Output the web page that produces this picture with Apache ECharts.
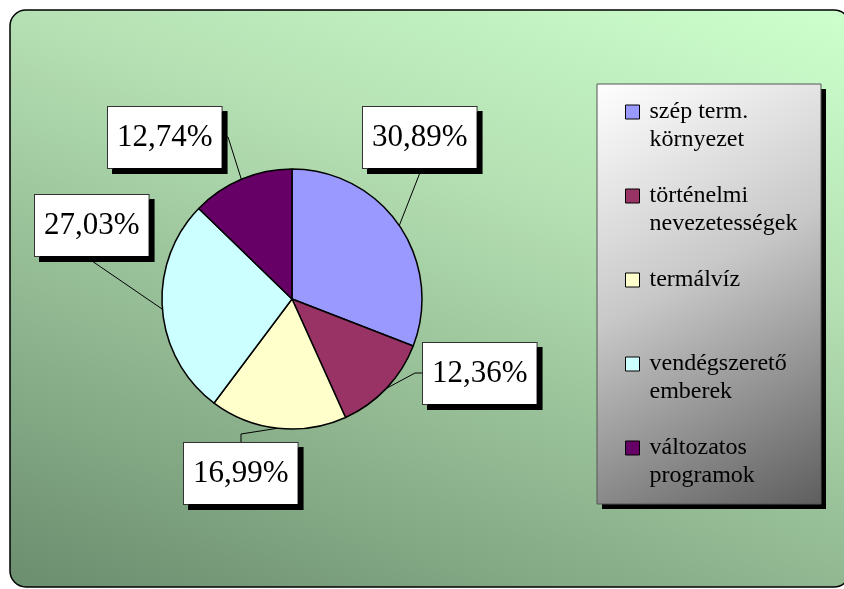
<!DOCTYPE html>
<html>
<head>
<meta charset="utf-8">
<script src="https://cdn.jsdelivr.net/npm/echarts@6/dist/echarts.min.js"></script>
<style>
html, body { margin: 0; padding: 0; background: #fff; }
#main { width: 844px; height: 589px; }
</style>
</head>
<body>
<div id="main"></div>
<script>
// adatok
var categories = ['szép term. környezet', 'történelmi nevezetességek', 'termálvíz', 'vendégszerető emberek', 'változatos programok'];
var legendText = [['szép term.', 'környezet'], ['történelmi', 'nevezetességek'], ['termálvíz', ''], ['vendégszerető', 'emberek'], ['változatos', 'programok']];
var values = [30.89, 12.36, 16.99, 27.03, 12.74];
var colors = ['#9999ff', '#993366', '#ffffcc', '#ccffff', '#660066'];

// címkék helye (bal felső sarok) és a vonal töréspontjai
var labelBoxes = [[363, 107], [423, 343], [184, 443], [35, 195], [108, 107]];
var lineBends = [
    [[421, 170], [421, 168]],
    [[415, 373], [423, 373]],
    [[241, 434], [241, 443]],
    [[92, 261], [92, 256]],
    [[228, 137], [220, 137]]
];

var pieData = [];
for (var i = 0; i < categories.length; i++) {
    pieData.push({ name: categories[i], value: values[i], itemStyle: { color: colors[i] } });
}

var myChart = echarts.init(document.getElementById('main'));

var option = {
    animation: false,
    graphic: [
        {   // háttér
            type: 'rect',
            z: 0,
            shape: { x: 10, y: 10, width: 840, height: 577, r: 16 },
            style: {
                fill: new echarts.graphic.LinearGradient(820, 10, 560, 760, [
                    { offset: 0, color: '#ccffcc' },
                    { offset: 0.35, color: '#b4dfb2' },
                    { offset: 1, color: '#6d9070' }
                ], true),
                stroke: '#000',
                lineWidth: 1.5
            }
        },
        {   // jelmagyarázat árnyék
            type: 'rect',
            z: 1,
            shape: { x: 602, y: 89, width: 224, height: 420 },
            style: { fill: '#000' }
        },
        {   // jelmagyarázat doboz
            type: 'rect',
            z: 1,
            shape: { x: 597, y: 84, width: 224, height: 420 },
            style: {
                fill: new echarts.graphic.LinearGradient(0, 0, 1, 1, [
                    { offset: 0, color: '#ffffff' },
                    { offset: 0.45, color: '#c8c8c8' },
                    { offset: 1, color: '#5e5e5e' }
                ]),
                stroke: '#555',
                lineWidth: 1
            }
        }
    ],
    legend: {
        orient: 'vertical',
        left: 625,
        top: 70,
        padding: 0,
        itemGap: 0,
        itemWidth: 14,
        itemHeight: 14,
        icon: 'rect',
        selectedMode: false,
        itemStyle: { borderColor: '#000', borderWidth: 1 },
        textStyle: {
            fontFamily: 'Liberation Serif',
            fontSize: 24,
            lineHeight: 28,
            color: '#000',
            padding: [0, 0, 0, 5]
        },
        formatter: function (name) {
            var t = legendText[categories.indexOf(name)];
            return '\n' + t[0] + '\n' + t[1];
        },
        data: categories
    },
    series: [
        {
            type: 'pie',
            center: [292, 299],
            radius: 130,
            startAngle: 90,
            clockwise: true,
            avoidLabelOverlap: false,
            emphasis: { disabled: true },
            itemStyle: { borderColor: '#000', borderWidth: 1.5 },
            label: {
                show: true,
                position: 'outside',
                fontFamily: 'Liberation Serif',
                fontSize: 31,
                lineHeight: 31,
                color: '#000',
                backgroundColor: '#fff',
                borderColor: '#333',
                borderWidth: 1,
                padding: [15, 9, 15, 9],
                shadowColor: '#000',
                shadowOffsetX: 5,
                shadowOffsetY: 5,
                shadowBlur: 0,
                formatter: function (p) {
                    return p.value.toFixed(2).replace('.', ',') + '%';
                }
            },
            labelLine: {
                show: true,
                length: 10,
                length2: 10,
                lineStyle: { color: '#000', width: 1 }
            },
            labelLayout: function (params) {
                var i = params.dataIndex;
                var start = params.labelLinePoints ? params.labelLinePoints[0] : null;
                var pts = start ? [start, lineBends[i][0], lineBends[i][1]] : undefined;
                return {
                    x: labelBoxes[i][0],
                    y: labelBoxes[i][1],
                    align: 'left',
                    verticalAlign: 'top',
                    labelLinePoints: pts
                };
            },
            data: pieData
        }
    ]
};

myChart.setOption(option);
window.onresize = myChart.resize;
</script>
</body>
</html>
